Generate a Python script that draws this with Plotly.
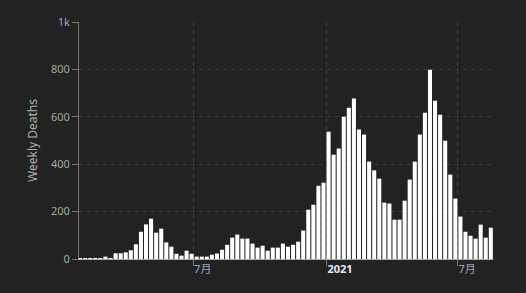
import pandas as pd
import plotly.graph_objects as go

week_start = "2020-01-27"
weekly_deaths = [3, 3, 3, 3, 3, 10, 3, 24, 24, 28,
                 37, 62, 115, 146, 170, 111, 128, 70, 52, 22,
                 14, 35, 22, 10, 10, 10, 18, 23, 39, 60,
                 90, 103, 86, 86, 65, 48, 56, 35, 48, 48,
                 65, 52, 60, 73, 120, 208, 229, 309, 322, 537,
                 440, 466, 600, 638, 677, 546, 525, 411, 374, 339,
                 238, 234, 166, 166, 246, 335, 411, 525, 617, 799,
                 668, 609, 499, 356, 255, 179, 115, 98, 86, 145,
                 90, 132]
weeks = pd.date_range(week_start, periods=len(weekly_deaths), freq="7D")

x_tick_vals = ["2020-07-01", "2021-01-01", "2021-07-01"]
x_tick_text = ["7月", "<b><span style='color:#e8e8e8'>2021</span></b>", "7月"]
y_tick_vals = [0, 200, 400, 600, 800, 1000]
y_tick_text = ["0", "200", "400", "600", "800", "1k"]

fig = go.Figure(go.Bar(x=weeks, y=weekly_deaths, marker=dict(color="#ffffff", line=dict(width=0))))

fig.update_layout(
    width=526, height=293,
    margin=dict(l=79, r=33, t=22, b=34),
    paper_bgcolor="#222222", plot_bgcolor="#222222",
    bargap=0.2,
    showlegend=False,
    font=dict(family="Noto Sans, Noto Sans CJK SC, sans-serif", size=11, color="#a8a8a8"),
)
fig.update_xaxes(
    range=["2020-01-25 12:00", "2021-08-19"],
    tickvals=x_tick_vals, ticktext=x_tick_text,
    ticks="outside", ticklen=6, tickcolor="#777777",
    ticklabelposition="outside right",
    showgrid=True, gridcolor="#3e3e3e", griddash="4px,4px", gridwidth=1,
    showline=True, linecolor="#aaaaaa", linewidth=1,
    zeroline=False,
    tickfont=dict(size=11, color="#a8a8a8"),
)
fig.update_yaxes(
    range=[0, 1000],
    tickvals=y_tick_vals, ticktext=y_tick_text,
    ticks="outside", ticklen=6, tickcolor="#777777",
    showgrid=True, gridcolor="#3e3e3e", griddash="4px,4px", gridwidth=1,
    showline=True, linecolor="#777777", linewidth=1,
    zeroline=False,
    title=dict(text="Weekly Deaths", font=dict(size=12, color="#b0b0b0"), standoff=10),
    tickfont=dict(size=11, color="#a8a8a8"),
)

fig.write_html("out.html")
